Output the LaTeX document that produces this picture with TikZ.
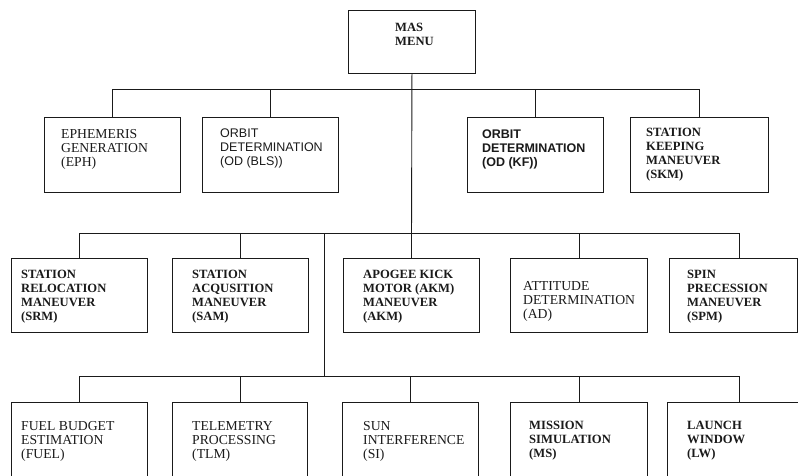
\documentclass[tikz,border=0pt]{standalone}
\usepackage{fontspec}
\setmainfont{Liberation Serif}
\newfontfamily\menusans{Liberation Sans}
\usetikzlibrary{positioning}
\definecolor{mxInk}{HTML}{1A1A1A}
\newcommand{\rmlbl}{\fontsize{13.7}{14}\selectfont}
\newcommand{\bflbl}{\fontsize{12.6}{14}\selectfont\bfseries}
\newcommand{\sflbl}{\fontsize{12.5}{14}\selectfont\menusans}

\begin{document}
\begin{tikzpicture}[x=1pt,y=1pt,
    box/.style={draw=mxInk,line width=0.9pt,anchor=north west,inner sep=0pt,
                minimum width=136pt,minimum height=75pt},
    lbl/.style={anchor=north west,align=left,inner sep=0pt,text=mxInk,font=\rmlbl},
    bus/.style={draw=mxInk,line width=0.9pt}]
        \useasboundingbox (0,0) rectangle (798,475);
        % boxes
        \node[box,minimum width=127pt,minimum height=63pt] (menu) at (348,465) {};
        \node[box] (eph)   at (44,358)  {};
        \node[box] (odbls) at (202,358) {};
        \node[box] (odkf)  at (467,358) {};
        \node[box,minimum width=138pt] (skm) at (630,358) {};
        \node[box,minimum height=74pt] (srm) at (11,217)  {};
        \node[box,minimum height=74pt] (sam) at (172,217) {};
        \node[box,minimum height=74pt] (akm) at (343,217) {};
        \node[box,minimum height=74pt,minimum width=137pt] (ad) at (510,217) {};
        \node[box,minimum height=74pt,minimum width=128pt] (spm) at (669,217) {};
        \node[box,minimum height=80pt] (fuel) at (11,73)  {};
        \node[box,minimum height=80pt,minimum width=135pt] (tlm) at (172,73) {};
        \node[box,minimum height=80pt] (si)   at (342,73) {};
        \node[box,minimum height=80pt,minimum width=137pt] (ms) at (510,73) {};
        \node[box,minimum height=80pt,minimum width=144pt] (lw) at (667,73) {};
        % texts
        \node[lbl,font=\bflbl] (menutxt) at (395,452) {MAS\\MENU};
        \node[lbl] (ephtxt) at (61,346) {EPHEMERIS\\GENERATION\\(EPH)};
        \node[lbl,font=\sflbl] (odblstxt) at (220,346) {ORBIT\\DETERMINATION\\(OD (BLS))};
        \node[lbl,font=\sflbl\bfseries] (odkftxt) at (482,345) {ORBIT\\DETERMINATION\\(OD (KF))};
        \node[lbl,font=\bflbl] (skmtxt) at (646,347) {STATION\\KEEPING\\MANEUVER\\(SKM)};
        \node[lbl,font=\bflbl] (srmtxt) at (21,205) {STATION\\RELOCATION\\MANEUVER\\(SRM)};
        \node[lbl,font=\bflbl] (samtxt) at (192,205) {STATION\\ACQUSITION\\MANEUVER\\(SAM)};
        \node[lbl,font=\bflbl] (akmtxt) at (363,205) {APOGEE KICK\\MOTOR (AKM)\\MANEUVER\\(AKM)};
        \node[lbl] (adtxt) at (523,194) {ATTITUDE\\DETERMINATION\\(AD)};
        \node[lbl,font=\bflbl] (spmtxt) at (687,205) {SPIN\\PRECESSION\\MANEUVER\\(SPM)};
        \node[lbl] (fueltxt) at (21,54) {FUEL BUDGET\\ESTIMATION\\(FUEL)};
        \node[lbl] (tlmtxt) at (192,54) {TELEMETRY\\PROCESSING\\(TLM)};
        \node[lbl] (sitxt) at (363,54) {SUN\\INTERFERENCE\\(SI)};
        \node[lbl,font=\bflbl] (mstxt) at (529,54) {MISSION\\SIMULATION\\(MS)};
        \node[lbl,font=\bflbl] (lwtxt) at (687,54) {LAUNCH\\WINDOW\\(LW)};
        % buses
        \coordinate (topbus) at (409,386);
        \coordinate (midbus) at (324,242);
        \coordinate (lowbus) at (324,99);
        \draw[bus] (menu.south) -- (akm.north);
        \draw[bus] (eph.north) -- (eph.north |- topbus) -- (skm.north |- topbus) -- (skm.north);
        \foreach \n in {odbls,odkf}
          \draw[bus] (\n.north) -- (\n.north |- topbus);
        \draw[bus] (srm.north) -- (srm.north |- midbus) -- ([xshift=6pt]spm.north |- midbus) -- ([xshift=6pt]spm.north);
        \foreach \n in {sam,ad}
          \draw[bus] (\n.north) -- (\n.north |- midbus);
        \draw[bus] (midbus) -- (lowbus);
        \draw[bus] (fuel.north) -- (fuel.north |- lowbus) -- (lw.north |- lowbus) -- (lw.north);
        \foreach \n in {tlm,si,ms}
          \draw[bus] (\n.north) -- (\n.north |- lowbus);
      \end{tikzpicture}
\end{document}
